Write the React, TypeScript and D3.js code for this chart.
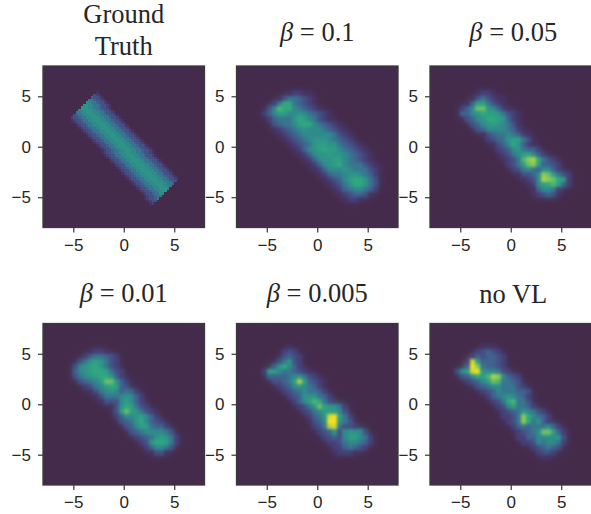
import { useEffect, useRef } from 'react';
import * as d3 from 'd3';

// heatmap rows are [row, first column, hex intensities], cells not listed are 0
type Row = [number, number, string];

const ticks = [-5, 0, 5];
const extent = [-8, 8];

const groundTruth: Row[] = [
  [10, 21, '1'],
  [11, 20, '321'],
  [12, 19, '43321'],
  [13, 18, '5543321'],
  [14, 17, '665543321'],
  [15, 16, '77665543321'],
  [16, 15, '777665543321'],
  [17, 14, '66777665543321'],
  [18, 13, '5566777665543321'],
  [19, 12, '345566777665543321'],
  [20, 11, '23345566777665543321'],
  [21, 11, '123345566777665543321'],
  [22, 12, '123345566777665543321'],
  [23, 13, '123345566777665543321'],
  [24, 14, '123345566777665543321'],
  [25, 15, '123345566777665543321'],
  [26, 16, '123345566777665543321'],
  [27, 17, '123345566777665543321'],
  [28, 18, '123345566777665543321'],
  [29, 19, '123345566777665543321'],
  [30, 20, '123345566777665543321'],
  [31, 21, '123345566777665543321'],
  [32, 22, '123345566777665543321'],
  [33, 23, '123345566777665543321'],
  [34, 23, '123345566777665543321'],
  [35, 24, '123345566777665543321'],
  [36, 25, '123345566777665543321'],
  [37, 26, '123345566777665543321'],
  [38, 27, '123345566777665543321'],
  [39, 28, '123345566777665543321'],
  [40, 29, '123345566777665543321'],
  [41, 30, '123345566777665543321'],
  [42, 31, '123345566777665543321'],
  [43, 32, '123345566777665543321'],
  [44, 33, '123345566777665543321'],
  [45, 34, '1233455667776655433'],
  [46, 35, '12334556677766554'],
  [47, 36, '123345566777665'],
  [48, 37, '1233455667776'],
  [49, 38, '12334556677'],
  [50, 39, '123345566'],
  [51, 40, '1233455'],
  [52, 40, '123345'],
  [53, 41, '1233'],
  [54, 42, '12'],
];

const beta01: Row[] = [
  [5, 10, '12211'],
  [6, 8, '13554321'],
  [7, 7, '25995432'],
  [8, 6, '36a99654321'],
  [9, 5, '24688667654321'],
  [10, 6, '2455579865321'],
  [11, 7, '34556899654321'],
  [12, 7, '123456766654321'],
  [13, 8, '123456666665321'],
  [14, 9, '12345677765432'],
  [15, 10, '123457887754321'],
  [16, 11, '124678988654321'],
  [17, 12, '124677877654321'],
  [18, 13, '12467788654321'],
  [19, 14, '12467896555321'],
  [20, 15, '12466676555321'],
  [21, 16, '124556776542'],
  [22, 17, '12346899753'],
  [23, 18, '1235799753'],
  [24, 19, '124566542'],
  [25, 20, '1234431'],
  [26, 21, '1221'],
];

const beta005: Row[] = [
  [5, 9, '1221'],
  [6, 8, '1353211'],
  [7, 7, '14885321'],
  [8, 6, '246bb76421'],
  [9, 6, '446798875321'],
  [10, 7, '34679987421'],
  [11, 8, '3467876531'],
  [12, 9, '3466665421'],
  [13, 10, '1345565421'],
  [14, 11, '2345788531'],
  [15, 12, '134697421'],
  [16, 13, '234675442'],
  [17, 14, '235689642'],
  [18, 14, '1235acd95321'],
  [19, 15, '2358bc84432'],
  [20, 16, '2356546642'],
  [21, 17, '13346cb8532'],
  [22, 18, '1236dcb982'],
  [23, 19, '12689a842'],
  [24, 20, '146652'],
  [25, 20, '123431'],
];

const beta001: Row[] = [
  [5, 9, '1221'],
  [6, 8, '2455432'],
  [7, 7, '35787532'],
  [8, 6, '367897532'],
  [9, 6, '4678998532'],
  [10, 6, '3567899742'],
  [11, 7, '34568bb742'],
  [12, 8, '235689843'],
  [13, 9, '1356764542'],
  [14, 10, '1355567642'],
  [15, 11, '133368642'],
  [16, 13, '13798532'],
  [17, 14, '38b875321'],
  [18, 14, '246678642'],
  [19, 15, '345796432'],
  [20, 16, '346885442'],
  [21, 17, '345666653'],
  [22, 18, '234578752'],
  [23, 19, '23799852'],
  [24, 20, '246653'],
  [25, 21, '1331'],
];

const beta0005: Row[] = [
  [4, 10, '1'],
  [5, 9, '232'],
  [6, 9, '3432'],
  [7, 8, '35732'],
  [8, 7, '479642'],
  [9, 5, '2886554321'],
  [10, 6, '44445675321'],
  [11, 7, '33458d84321'],
  [12, 8, '234676542'],
  [13, 9, '234565542'],
  [14, 10, '234777542'],
  [15, 11, '2468a9532'],
  [16, 12, '2357b87752'],
  [17, 13, '235688863'],
  [18, 14, '2457ef852'],
  [19, 14, '1346ff753'],
  [20, 15, '235de5332'],
  [21, 16, '2347367763'],
  [22, 17, '2343688652'],
  [23, 18, '223566542'],
  [24, 19, '2245432'],
  [25, 19, '12221'],
];

const noVl: Row[] = [
  [4, 10, '111'],
  [5, 9, '23432'],
  [6, 8, '2434432'],
  [7, 7, '2e844432'],
  [8, 7, '4fc54432'],
  [9, 5, '378ef766532'],
  [10, 6, '34698adc6432'],
  [11, 7, '23468ba5543'],
  [12, 9, '3456655532'],
  [13, 10, '2346555443'],
  [14, 11, '245676542'],
  [15, 12, '2359a553'],
  [16, 13, '23685542'],
  [17, 14, '234576532'],
  [18, 14, '2235c96542'],
  [19, 15, '235c95742'],
  [20, 16, '2454555642'],
  [21, 17, '23456bb842'],
  [22, 17, '2244666673'],
  [23, 18, '223656652'],
  [24, 20, '234543'],
  [25, 21, '2332'],
  [26, 22, '11'],
];

const panels = [
  { title: ['Ground', 'Truth'], beta: null, rows: groundTruth, size: 64 },
  { title: null, beta: '0.1', rows: beta01, size: 32 },
  { title: null, beta: '0.05', rows: beta005, size: 32 },
  { title: null, beta: '0.01', rows: beta001, size: 32 },
  { title: null, beta: '0.005', rows: beta0005, size: 32 },
  { title: ['no VL'], beta: null, rows: noVl, size: 32 },
];

const intensity = [0, 1, 2, 4, 6, 9, 12, 15];
const ramp = ['#452b4b', '#463360', '#463f78', '#3f628f', '#2f8a8c', '#2fa880', '#8acb58', '#f6e01f'];

const width = 591;
const height = 514;
const lefts = [43, 236.5, 430];
const tops = [66, 323.5];
const plot = 161.5;

const tickText = (d: d3.NumberValue) => d3.format('d')(d as number).replace('-', '\u2212');

const addBlur = (defs: any, id: string, amount: number) => {
  defs
    .append('filter')
    .attr('id', id)
    .attr('x', '-20%')
    .attr('y', '-20%')
    .attr('width', '140%')
    .attr('height', '140%')
    .attr('color-interpolation-filters', 'sRGB')
    .append('feGaussianBlur')
    .attr('stdDeviation', amount);
};

const Heatmaps = () => {
  const ref = useRef<SVGSVGElement>(null);

  useEffect(() => {
    const svg = d3.select(ref.current);
    svg.selectAll('*').remove();

    const color = d3.scaleLinear<string>().domain(intensity).range(ramp).interpolate(d3.interpolateRgb);
    const x = d3.scaleLinear().domain(extent).range([0, plot]);
    const y = d3.scaleLinear().domain(extent).range([plot, 0]);

    const defs = svg.append('defs');
    addBlur(defs, 'halo', 4.5);
    addBlur(defs, 'soft', 1.7);
    addBlur(defs, 'edge', 0.5);

    panels.forEach((p, i) => {
      const col = i % 3;
      const g = svg.append('g').attr('transform', `translate(${lefts[col]},${tops[Math.floor(i / 3)]})`);

      g.append('rect').attr('width', plot).attr('height', plot).attr('fill', color(0));

      const band = d3.scaleBand<number>().domain(d3.range(p.size)).range([0, plot]);
      const cells = p.rows.flatMap(([r, c, vals]) =>
        Array.from(vals).map((ch, k) => ({ r, c: c + k, v: parseInt(ch, 16) }))
      );
      const drawCells = (filter: string, opacity: number) => {
        g.append('g')
          .attr('filter', `url(#${filter})`)
          .attr('opacity', opacity)
          .attr('shape-rendering', 'crispEdges')
          .selectAll('rect')
          .data(cells)
          .enter()
          .append('rect')
          .attr('x', (d) => band(d.c) as number)
          .attr('y', (d) => band(d.r) as number)
          .attr('width', band.bandwidth())
          .attr('height', band.bandwidth())
          .attr('fill', (d) => color(d.v));
      };
      if (p.size === 32) {
        drawCells('halo', 0.8);
        drawCells('soft', 1);
      } else {
        drawCells('edge', 1);
      }

      const xAxis = g
        .append('g')
        .attr('transform', `translate(0,${plot})`)
        .call(d3.axisBottom(x).tickValues(ticks).tickSize(5).tickPadding(6).tickFormat(tickText));
      const yAxis = g
        .append('g')
        .call(d3.axisLeft(y).tickValues(ticks).tickSize(5).tickPadding(7).tickFormat(tickText));
      [xAxis, yAxis].forEach((a) => {
        a.selectAll('text')
          .attr('font-family', '"Liberation Sans", sans-serif')
          .attr('font-size', 17)
          .attr('fill', '#262626');
        a.selectAll('line').attr('stroke', '#444').attr('stroke-width', 1.3);
        a.select('.domain').remove();
      });

      g.append('rect')
        .attr('width', plot)
        .attr('height', plot)
        .attr('fill', 'none')
        .attr('stroke', '#3a3a3a')
        .attr('stroke-width', 1.3);

      const cx = plot / 2 + (col === 2 ? 2.5 : 0);
      const base = i < 3 ? -25 : -22;
      const title = g
        .append('text')
        .attr('font-family', '"Liberation Serif", serif')
        .attr('font-size', 26.5)
        .attr('fill', '#262626')
        .attr('text-anchor', 'middle');
      if (p.beta) {
        title.attr('x', cx).attr('y', base);
        title.append('tspan').attr('font-style', 'italic').text('\u03b2');
        title.append('tspan').text(` = ${p.beta}`);
      } else {
        const lines = p.title as string[];
        lines.forEach((line, k) => {
          title
            .append('tspan')
            .attr('x', cx)
            .attr('y', lines.length > 1 ? -43 + k * 32 : base + 1)
            .text(line);
        });
      }
    });
  }, []);

  return <svg ref={ref} width={width} height={height} style={{ position: 'absolute', left: 0, top: 0 }}></svg>;
};

export default function App() {
  return <Heatmaps />;
}
